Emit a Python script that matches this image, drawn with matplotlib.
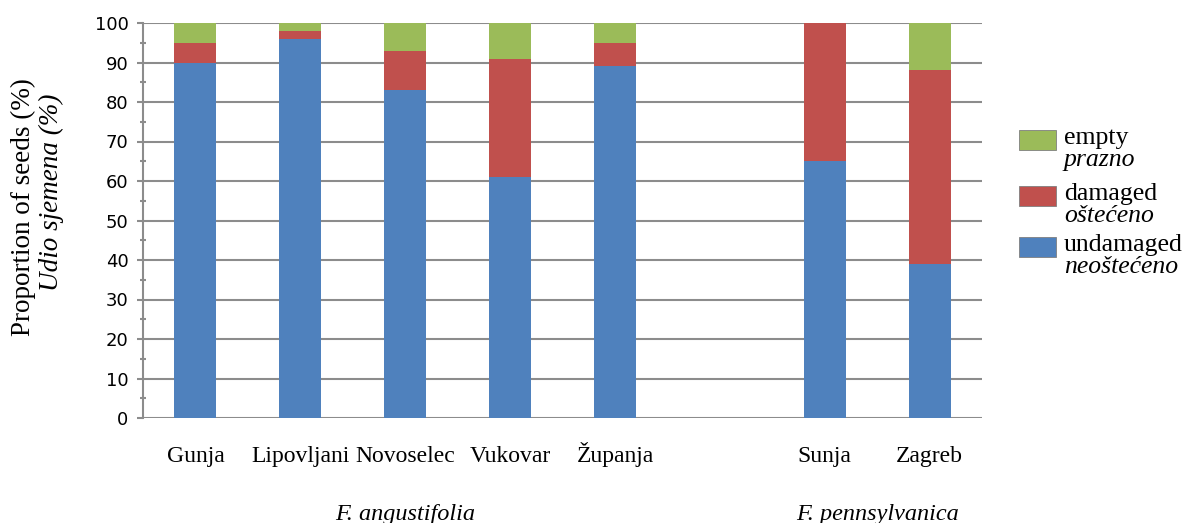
import matplotlib
matplotlib.use("Agg")
import matplotlib.pyplot as plt
import matplotlib.ticker as mticker
from matplotlib.patches import Rectangle

# ---------------------------------------------------------------------------
# Data (percent of seeds per site)
# ---------------------------------------------------------------------------
sites = ["Gunja", "Lipovljani", "Novoselec", "Vukovar", "Županja", "Sunja", "Zagreb"]
species = ["F. angustifolia"] * 5 + ["F. pennsylvanica"] * 2
undamaged = [90, 96, 83, 61, 89, 65, 39]
damaged = [5, 2, 10, 30, 6, 35, 49]
empty = [5, 2, 7, 9, 5, 0, 12]

_COLORS = {
    "undamaged": "#4f81bd",
    "damaged": "#c0504d",
    "empty": "#9bbb59",
    "grid": "#8c8c8c",
}
SERIF = "Liberation Serif"
SANS = "DejaVu Sans"

# positions: one empty slot between species groups
pos = []
x = 0
for i, sp in enumerate(species):
    if i > 0 and sp != species[i - 1]:
        x += 1
    pos.append(x)
    x += 1

W, H = 1195, 523
fig = plt.figure(figsize=(W / 100, H / 100), dpi=100)
ax = fig.add_axes([143 / W, (H - 418) / H, (982 - 143) / W, (418 - 23) / H])

bw = 0.4
bottom = [0] * len(sites)
for key, vals in (("undamaged", undamaged), ("damaged", damaged), ("empty", empty)):
    ax.bar(pos, vals, width=bw, bottom=bottom, color=_COLORS[key], zorder=3)
    bottom = [b + v for b, v in zip(bottom, vals)]

ax.set_xlim(-0.5, pos[-1] + 0.5)
ax.set_ylim(0, 100)
ax.set_yticks(range(0, 101, 10))
ax.yaxis.set_minor_locator(mticker.MultipleLocator(5))
ax.grid(axis="y", color=_COLORS["grid"], linewidth=1.5, zorder=0)
for s in ("top", "right", "bottom"):
    ax.spines[s].set_visible(False)
ax.spines["left"].set_color(_COLORS["grid"])
ax.spines["left"].set_linewidth(1.5)
ax.tick_params(axis="y", which="major", direction="out", length=4.5, width=1.5,
               color=_COLORS["grid"], pad=6, labelsize=13)
ax.tick_params(axis="y", which="minor", direction="inout", length=4.5, width=1.5,
               color=_COLORS["grid"])
for lab in ax.get_yticklabels():
    lab.set_fontfamily(SANS)

# site names and species group labels (baseline aligned)
ax.set_xticks(pos)
ax.set_xticklabels([])
ax.tick_params(axis="x", length=0)
xt = ax.get_xaxis_transform()
for p, name in zip(pos, sites):
    ax.text(p, -0.1114, name, transform=xt, ha="center", va="baseline",
            fontfamily=SERIF, fontsize=17)
for sp in dict.fromkeys(species):
    xs = [p for p, s in zip(pos, species) if s == sp]
    xc = sum(xs) / len(xs)
    ax.text(xc, -0.258, sp, transform=xt, ha="center", va="baseline",
            fontfamily=SERIF, fontstyle="italic", fontsize=17.5)

# y label in two languages
fig.text(23 / W, 1 - 207 / H, "Proportion of seeds (%)", rotation=90, ha="center",
         va="center", fontfamily=SERIF, fontsize=19.5)
fig.text(51 / W, 1 - 192 / H, "Udio sjemena (%)", rotation=90, ha="center",
         va="center", fontfamily=SERIF, fontstyle="italic", fontsize=19.5)

# legend drawn by hand (bilingual, mixed styles)
legend_items = [
    ("empty", "empty", "prazno", 130),
    ("damaged", "damaged", "oštećeno", 186),
    ("undamaged", "undamaged", "neoštećeno", 237),
]
for key, en, hr, top in legend_items:
    fig.add_artist(Rectangle((1019 / W, 1 - (top + 20) / H), 37 / W, 20 / H,
                             transform=fig.transFigure, facecolor=_COLORS[key],
                             edgecolor="#7f7f7f", linewidth=0.6))
    fig.text(1064 / W, 1 - (top + 14) / H, en, ha="left", va="baseline",
             fontfamily=SERIF, fontsize=18.5)
    fig.text(1064 / W, 1 - (top + 36) / H, hr, ha="left", va="baseline",
             fontfamily=SERIF, fontstyle="italic", fontsize=18.5)

fig.savefig("out.png", dpi=100)
plt.close(fig)
